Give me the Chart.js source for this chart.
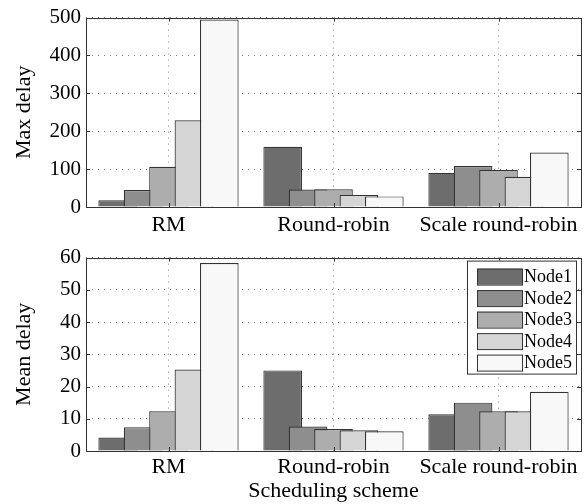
<!DOCTYPE html>
<html>
<head>
<meta charset="utf-8">
<script src="https://cdn.jsdelivr.net/npm/chart.js@4.4.0/dist/chart.umd.min.js"></script>
<style>
  body { margin: 0; background: #fff; }
  #wrap { width: 587px; height: 504px; }
  canvas { display: block; }
</style>
</head>
<body>
<div id="wrap">
  <canvas id="maxChart" width="587" height="240"></canvas>
  <canvas id="meanChart" width="587" height="264"></canvas>
</div>
<script>
const schemes = ["RM", "Round-robin", "Scale round-robin"];
const nodes = ["Node1", "Node2", "Node3", "Node4", "Node5"];
const nodeColors = ["#6d6d6d", "#8e8e8e", "#adadad", "#d5d5d5", "#f8f8f8"];

// one row per node, one value per scheme
const maxDelay = [
  [18, 159, 90],
  [45, 46, 108],
  [106, 47, 98],
  [229, 32, 80],
  [495, 28, 144],
];
const meanDelay = [
  [4.2, 25.0, 11.4],
  [7.4, 7.6, 15.0],
  [12.3, 6.8, 12.3],
  [25.3, 6.4, 12.3],
  [58.3, 6.1, 18.4],
];
const maxTicks = [0, 100, 200, 300, 400, 500];
const meanTicks = [0, 10, 20, 30, 40, 50, 60];

const SERIF = "'Liberation Serif', 'DejaVu Serif', serif";

// later datasets sit on top of earlier ones (matlab style overlap)
const drawInOrder = {
  id: "drawInOrder",
  beforeDatasetsDraw(chart) {
    chart.getSortedVisibleDatasetMetas().forEach((meta) => meta.controller.draw());
    return false;
  },
};

// box round the plot with small inward ticks
const frame = {
  id: "frame",
  afterDraw(chart) {
    const { ctx, chartArea: a } = chart;
    const { x, y } = chart.scales;
    ctx.save();
    ctx.strokeStyle = "#333";
    ctx.lineWidth = 1;
    ctx.setLineDash([]);
    ctx.beginPath();
    y.ticks.forEach((t) => {
      const py = Math.round(y.getPixelForValue(t.value)) + 0.5;
      ctx.moveTo(a.left, py);
      ctx.lineTo(a.left + 4, py);
      ctx.moveTo(a.right, py);
      ctx.lineTo(a.right - 4, py);
    });
    x.ticks.forEach((t, i) => {
      const px = Math.round(x.getPixelForTick(i)) + 0.5;
      ctx.moveTo(px, a.top);
      ctx.lineTo(px, a.top + 4);
      ctx.moveTo(px, a.bottom);
      ctx.lineTo(px, a.bottom - 4);
    });
    ctx.stroke();
    ctx.strokeRect(Math.round(a.left) + 0.5, Math.round(a.top) + 0.5,
      Math.round(a.right - a.left), Math.round(a.bottom - a.top));
    ctx.restore();
  },
};

// legend box in the upper right corner of the lower plot
const boxLegend = {
  id: "boxLegend",
  afterDraw(chart, args, opts) {
    if (!opts.show) return;
    const { ctx, chartArea: a } = chart;
    const w = 109;
    const h = 113;
    const left = a.right - 5 - w;
    const top = a.top + 3;
    ctx.save();
    ctx.fillStyle = "#fff";
    ctx.fillRect(left, top, w, h);
    ctx.strokeStyle = "#333";
    ctx.lineWidth = 1;
    ctx.strokeRect(left + 0.5, top + 0.5, w, h);
    ctx.font = `18px ${SERIF}`;
    ctx.textBaseline = "middle";
    ctx.textAlign = "left";
    chart.data.datasets.forEach((ds, i) => {
      const cy = top + 16 + i * 21.5;
      ctx.fillStyle = ds.backgroundColor;
      ctx.fillRect(left + 10, cy - 8, 45, 16);
      ctx.strokeStyle = "#333";
      ctx.strokeRect(left + 10.5, cy - 7.5, 45, 16);
      ctx.fillStyle = "#000";
      ctx.fillText(ds.label, left + 57, cy + 1);
    });
    ctx.restore();
  },
};

function makeChart(canvasId, rows, yMax, yStep, labelTicks, yTitle, opts) {
  return new Chart(document.getElementById(canvasId), {
    type: "bar",
    data: {
      labels: schemes,
      datasets: rows.map((row, i) => ({
        label: nodes[i],
        data: row,
        backgroundColor: nodeColors[i],
        borderColor: "#333",
        borderWidth: 1.2,
      })),
    },
    options: {
      responsive: false,
      animation: false,
      categoryPercentage: 0.77,
      barPercentage: 1.52,
      layout: { padding: { left: 0, right: 6, top: opts.top, bottom: 0 } },
      plugins: {
        legend: { display: false },
        tooltip: { enabled: false },
        boxLegend: { show: opts.legend },
      },
      scales: {
        x: {
          grid: { offset: false, color: "#888", drawTicks: false },
          border: { display: false, dash: [1, 5] },
          ticks: { color: "#000", font: { family: SERIF, size: 22 }, padding: opts.xPad },
          title: {
            display: !!opts.xTitle,
            text: opts.xTitle || "",
            color: "#000",
            font: { family: SERIF, size: 22 },
            padding: { top: 0, bottom: 0 },
          },
          afterFit(scale) {
            scale.height = opts.xHeight;
          },
        },
        y: {
          min: 0,
          max: yMax,
          grid: { color: "#888", drawTicks: false },
          border: { display: false, dash: [1, 5] },
          ticks: {
            stepSize: yStep,
            color: "#000",
            font: { family: SERIF, size: 21 },
            padding: 5,
            callback: (v) => (labelTicks.includes(v) ? v : ""),
          },
          title: {
            display: true,
            text: yTitle,
            color: "#000",
            font: { family: SERIF, size: 22 },
            padding: { top: 11, bottom: 0 },
          },
          afterFit(scale) {
            scale.width = 86;
          },
        },
      },
    },
    plugins: [drawInOrder, frame, boxLegend],
  });
}

makeChart("maxChart", maxDelay, 500, 50, maxTicks, "Max delay",
  { top: 14, xHeight: 33, xPad: 5, legend: false });
makeChart("meanChart", meanDelay, 60, 5, meanTicks, "Mean delay",
  { top: 3, xHeight: 53, xPad: 3, legend: true, xTitle: "Scheduling scheme" });
</script>
</body>
</html>
